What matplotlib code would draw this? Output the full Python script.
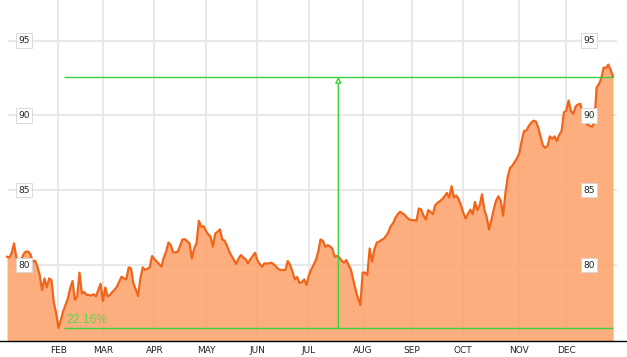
import matplotlib
matplotlib.use("Agg")
import matplotlib.pyplot as plt
import matplotlib.transforms as mtransforms
import numpy as np

# daily closes, one value per trading session
prices = [
    80.55, 80.5, 80.8, 81.45, 80.5, 80.2, 80.3, 80.7, 80.9, 80.9,
    80.73, 80.2, 80.3, 79.9, 79.3, 78.33, 79.1, 78.5, 79.1, 79.0,
    77.5, 76.8, 75.8, 76.33, 76.9, 77.33, 77.76, 78.44, 78.93, 77.67,
    77.9, 79.49, 78.1, 78.2, 78.0, 78.0, 77.96, 78.05, 77.9, 78.33,
    78.75, 77.6, 78.5, 77.9, 78.0, 78.2, 78.35, 78.56, 78.9, 79.22,
    79.1, 79.04, 79.84, 79.78, 78.78, 78.38, 77.93, 79.1, 79.84, 79.67,
    79.75, 79.84, 80.6, 80.4, 80.22, 80.07, 79.89, 80.5, 80.89, 81.51,
    81.33, 80.84, 80.85, 80.89, 81.3, 81.71, 81.73, 81.6, 81.45, 80.44,
    81.11, 81.45, 82.96, 82.56, 82.6, 82.29, 82.05, 81.89, 81.22, 82.11,
    82.22, 82.38, 81.71, 81.62, 81.3, 80.89, 80.6, 80.33, 80.07, 80.44,
    80.67, 80.5, 80.38, 80.11, 80.38, 80.6, 80.82, 80.33, 80.07, 79.89,
    80.11, 80.1, 80.11, 80.16, 80.04, 79.9, 79.73, 79.67, 79.67, 79.67,
    80.27, 80.0, 79.56, 79.04, 79.2, 78.8, 78.85, 79.04, 78.67, 79.3,
    79.7, 80.0, 80.33, 80.89, 81.71, 81.62, 81.22, 81.33, 81.25, 81.11,
    80.56, 80.6, 80.51, 80.29, 80.16, 80.33, 80.0, 79.67, 79.0, 78.33,
    77.78, 77.33, 79.5, 79.49, 79.33, 81.11, 80.22, 81.04, 81.49, 81.56,
    81.67, 81.75, 81.95, 82.2, 82.6, 82.8, 83.15, 83.4, 83.56, 83.45,
    83.35, 83.16, 83.04, 83.0, 83.0, 82.96, 83.78, 83.71, 83.3, 83.04,
    83.67, 83.56, 83.4, 84.0, 84.16, 84.27, 84.4, 84.6, 84.82, 84.51,
    85.27, 84.51, 84.65, 84.4, 84.0, 83.5, 83.11, 83.4, 83.7, 83.4,
    84.22, 83.67, 84.0, 84.73, 83.7, 83.2, 82.38, 83.0, 83.7, 84.3,
    84.6, 84.3, 83.3, 84.8, 85.9, 86.5, 86.65, 86.9, 87.15, 87.5,
    88.33, 88.96, 89.0, 89.3, 89.5, 89.65, 89.6, 89.2, 88.6, 88.0,
    87.84, 87.95, 88.6, 88.44, 88.6, 88.3, 88.7, 88.95, 90.2, 90.33,
    91.0, 90.3, 90.11, 90.6, 90.73, 90.78, 90.2, 89.8, 89.4, 89.3,
    89.25, 89.5, 91.89, 92.1, 92.5, 93.2, 93.18, 93.4, 93.04, 92.6,
]
sessions = np.arange(len(prices))

# first session of each month
month_names = ["FEB", "MAR", "APR", "MAY", "JUN", "JUL", "AUG", "SEP", "OCT", "NOV", "DEC"]
month_starts = [22, 41, 63, 85, 107, 129, 152, 173, 195, 219, 239]

y_levels = [80, 85, 90, 95]

LINE = "#f0651a"
FILL = "#fca36c"
GRID = "#e6e6e6"
GREEN = "#3ccf3c"

fig = plt.figure(figsize=(6.27, 3.57), dpi=100)
ax = fig.add_axes([0, 16 / 357, 1, 341 / 357])
ax.set_xlim(-2.99, 264.96)
y_bottom = 74.92
ax.set_ylim(y_bottom, 97.72)

# grid
for s in month_starts:
    ax.axvline(s, color=GRID, lw=1.3, zorder=1)
ax.hlines(y_levels, 0.4, 260.7, color=GRID, lw=1.3, zorder=1)

# price area
ax.fill_between(sessions, prices, y_bottom - 1, color=FILL, alpha=0.88, lw=0, zorder=2)
ax.plot(sessions, prices, color=LINE, lw=1.6, zorder=3, solid_joinstyle="round")

# low / last measurement
low = min(prices)
last = prices[-1]
pct = (last / low - 1) * 100
line_start = 24.4
arrow_at = 141.6
ax.hlines([low, last], line_start, sessions[-1], color=GREEN, lw=1.0, zorder=4)
ax.annotate("", xy=(arrow_at, last), xytext=(arrow_at, low),
            arrowprops=dict(arrowstyle="-|>", fc="white", ec=GREEN, lw=1.0,
                            mutation_scale=9, shrinkA=0, shrinkB=0),
            zorder=5)
ax.text(25.2, low + 0.33, f"{pct:.2f}%", color="#5fd34a", fontsize=8.7,
        family="Liberation Sans", va="baseline", ha="left", zorder=6)

# y labels in boxes, both sides
trans = mtransforms.blended_transform_factory(ax.transAxes, ax.transData)
for v in y_levels:
    for xf in (24 / 627, 589 / 627):
        ax.text(xf, v, str(v), transform=trans, ha="center", va="center",
                fontsize=6.5, color="#222222", zorder=7,
                bbox=dict(boxstyle="square,pad=0.3", fc="white", ec="#d6d6d6", lw=0.6))

ax.set_xticks(month_starts, month_names)
ax.tick_params(axis="x", length=0, pad=3.3, labelsize=6.5, labelcolor="#222222")
ax.set_yticks([])
for side in ("left", "right", "top"):
    ax.spines[side].set_visible(False)
ax.spines["bottom"].set_color("black")
ax.spines["bottom"].set_linewidth(1.0)
ax.spines["bottom"].set_zorder(8)

fig.savefig("out.png", dpi=100)
